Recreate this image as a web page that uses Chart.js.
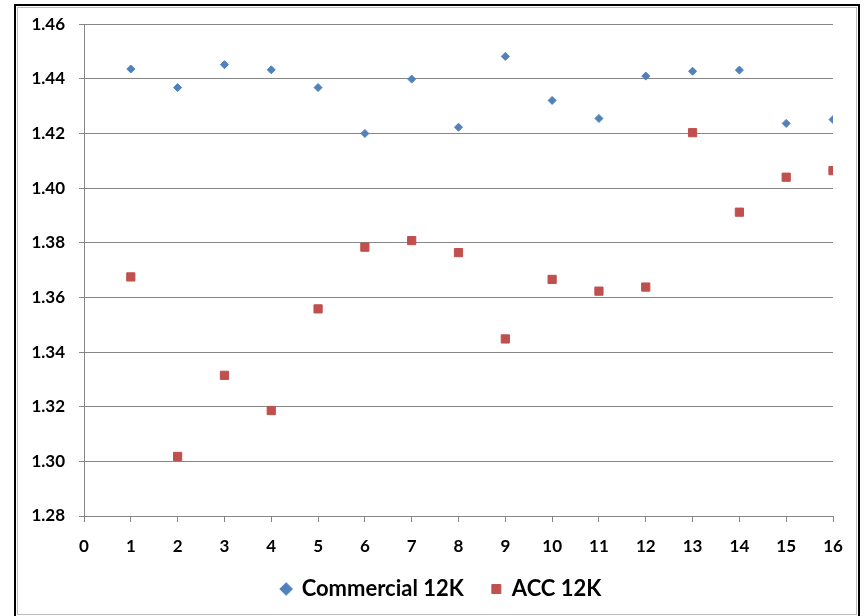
<!DOCTYPE html>
<html>
<head>
<meta charset="utf-8">
<script src="https://cdn.jsdelivr.net/npm/chart.js@4.4.1/dist/chart.umd.min.js"></script>
<style>
  html, body { margin: 0; padding: 0; background: #fff; width: 865px; height: 616px; overflow: hidden; }
  #wrap { position: absolute; left: 0; top: 0; width: 865px; height: 616px; }
  #outer { position: absolute; left: 14px; top: 4px; width: 842px; height: 640px; border: 2px solid #000; border-bottom: none; pointer-events: none; }
  #inner { position: absolute; left: 17px; top: 7px; width: 838px; height: 606px; border: 1px solid #bcbcbc; pointer-events: none; }
  canvas { position: absolute; left: 0; top: 0; }
</style>
</head>
<body>
<div id="wrap">
  <canvas id="c" width="865" height="616"></canvas>
  <div id="inner"></div>
  <div id="outer"></div>
</div>
<script>
const xValues = [1, 2, 3, 4, 5, 6, 7, 8, 9, 10, 11, 12, 13, 14, 15, 16];
const commercial12K = [1.4436, 1.4368, 1.4452, 1.4433, 1.4368, 1.4200, 1.4399, 1.4223,
                       1.4482, 1.4321, 1.4255, 1.4410, 1.4428, 1.4432, 1.4237, 1.4251];
const acc12K = [1.3675, 1.3018, 1.3315, 1.3186, 1.3558, 1.3784, 1.3808, 1.3764,
                1.3448, 1.3666, 1.3623, 1.3638, 1.4203, 1.3912, 1.4040, 1.4064];
const seriesNames = ['Commercial 12K', 'ACC 12K'];
const yTicks = [1.28, 1.30, 1.32, 1.34, 1.36, 1.38, 1.40, 1.42, 1.44, 1.46];
const xTicks = [0, 1, 2, 3, 4, 5, 6, 7, 8, 9, 10, 11, 12, 13, 14, 15, 16];

const toPoints = (xs, ys) => xs.map((x, i) => ({ x: x, y: ys[i] }));

const FONT = "Lato, 'Open Sans', 'DejaVu Sans', sans-serif";
const GRID = '#868686';

// move the legend box to where the reference shows it
const legendPlacer = {
  id: 'legendPlacer',
  afterLayout(chart) {
    const lg = chart.legend;
    if (!lg) return;
    lg.left = 50;
    lg.right = 833;
    lg.width = lg.right - lg.left;
    lg.top = 550;
    lg.bottom = 612;
    lg.height = lg.bottom - lg.top;
  }
};

new Chart(document.getElementById('c'), {
  type: 'scatter',
  data: {
    datasets: [
      {
        label: seriesNames[0],
        data: toPoints(xValues, commercial12K),
        pointStyle: 'rectRot',
        pointRadius: 4,
        pointHoverRadius: 4,
        backgroundColor: '#4F81BD',
        borderColor: '#4F81BD',
        borderWidth: 1
      },
      {
        label: seriesNames[1],
        data: toPoints(xValues, acc12K),
        pointStyle: 'rect',
        pointRadius: 5.8,
        pointHoverRadius: 5.8,
        backgroundColor: '#C0504D',
        borderColor: '#C0504D',
        borderWidth: 1
      }
    ]
  },
  plugins: [legendPlacer],
  options: {
    responsive: false,
    animation: false,
    events: [],
    layout: { padding: { left: 0, right: 32, top: 24, bottom: 0 } },
    plugins: {
      tooltip: { enabled: false },
      legend: {
        position: 'bottom',
        maxHeight: 55,
        labels: {
          usePointStyle: true,
          boxWidth: 9,
          boxHeight: 9,
          padding: 28,
          color: '#000',
          font: { family: FONT, size: 22, weight: 'bold' }
        }
      }
    },
    scales: {
      x: {
        type: 'linear',
        min: xTicks[0],
        max: xTicks[xTicks.length - 1],
        afterBuildTicks: (s) => { s.ticks = xTicks.map(v => ({ value: v })); },
        afterFit: (s) => { s.height = 45; },
        grid: { drawOnChartArea: false, drawTicks: true, tickLength: 6, color: GRID, tickColor: GRID },
        border: { display: true, color: GRID, width: 1 },
        ticks: {
          color: '#000',
          padding: 14,
          maxRotation: 0,
          font: { family: FONT, size: 17, weight: 'bold' },
          callback: (v) => String(v)
        }
      },
      y: {
        min: yTicks[0],
        max: yTicks[yTicks.length - 1],
        afterBuildTicks: (s) => { s.ticks = yTicks.map(v => ({ value: v })); },
        afterFit: (s) => { s.width = 84; },
        grid: { drawOnChartArea: true, drawTicks: true, tickLength: 5, color: GRID, tickColor: GRID },
        border: { display: true, color: GRID, width: 1 },
        ticks: {
          color: '#000',
          padding: 14,
          font: { family: FONT, size: 17, weight: 'bold' },
          callback: (v) => Number(v).toFixed(2)
        }
      }
    }
  }
});
</script>
</body>
</html>
